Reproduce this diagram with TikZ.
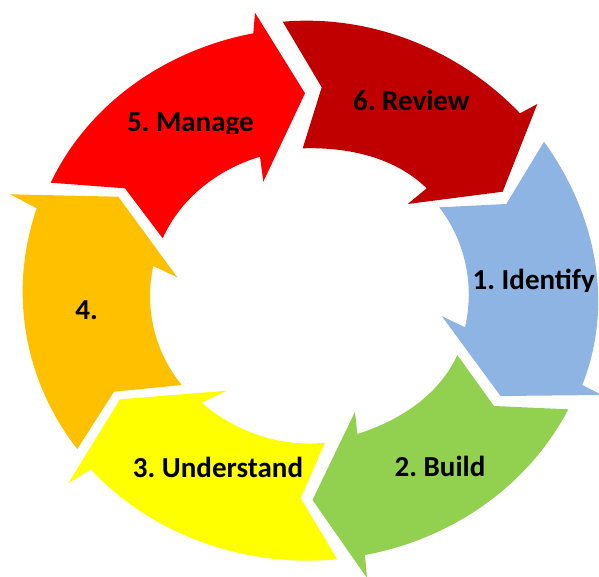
\documentclass[tikz,border=0pt]{standalone}
\usepackage{fontspec}
\setmainfont{Carlito}
\frenchspacing
\definecolor{cOne}{HTML}{8EB4E3}
\definecolor{cTwo}{HTML}{92D050}
\definecolor{cThree}{HTML}{FFFF00}
\definecolor{cFour}{HTML}{FFC000}
\definecolor{cFive}{HTML}{FF0000}
\definecolor{cSix}{HTML}{C00000}
% arc between two points following an ellipse (cx,cy,a,b), radius interpolated
\newcommand\mkarc[9]{%
  \pgfmathsetmacro\ArcUa{((#2)-(#6))/(#8)}%
  \pgfmathsetmacro\ArcVa{((#7)-(#3))/(#9)}%
  \pgfmathsetmacro\ArcUb{((#4)-(#6))/(#8)}%
  \pgfmathsetmacro\ArcVb{((#7)-(#5))/(#9)}%
  \pgfmathsetmacro\ArcTa{atan2(\ArcVa,\ArcUa)}%
  \pgfmathsetmacro\ArcTb{atan2(\ArcVb,\ArcUb)}%
  \pgfmathsetmacro\ArcDt{mod((\ArcTb)-(\ArcTa)+540,360)-180}%
  \pgfmathsetmacro\ArcK{4/3*tan((\ArcDt)/4)}%
  \coordinate (#1s) at (#2,#3);%
  \coordinate (#1e) at (#4,#5);%
  \coordinate (#1a) at ({#6+#8*((\ArcUa)-(\ArcK)*(\ArcVa))},{#7-#9*((\ArcVa)+(\ArcK)*(\ArcUa))});%
  \coordinate (#1b) at ({#6+#8*((\ArcUb)+(\ArcK)*(\ArcVb))},{#7-#9*((\ArcVb)-(\ArcK)*(\ArcUb))});%
}
\newcommand\mkouter[5]{\mkarc{#1}{#2}{#3}{#4}{#5}{309}{290.5}{288}{269.5}}
\newcommand\mkinner[5]{\mkarc{#1}{#2}{#3}{#4}{#5}{307.5}{295.5}{157.5}{147.5}}
\tikzset{lbl/.style={font=\fontsize{29}{34}\selectfont\bfseries, text=black, inner sep=0pt, anchor=base}}
\begin{document}
\begin{tikzpicture}[x=1pt,y=-1pt]
\useasboundingbox (0,0) rectangle (599,576);
\clip (0,0) rectangle (599,576);
% ---- 5. Manage (red)
\mkouter{rO}{50.7}{182.7}{253.3}{33.3}
\mkinner{rI}{260}{156.7}{162.7}{238.3}
\fill[cFive] (rOs) .. controls (rOa) and (rOb) .. (rOe) -- (255,12.7) -- (305,93.3) -- (263.3,181.7)
  -- (rIs) .. controls (rIa) and (rIb) .. (rIe) -- (125,188.3) -- cycle;
% ---- 6. Review (dark red)
\mkouter{dO}{282.7}{21.7}{520}{113.3}
\mkinner{dI}{426.7}{188.3}{302.7}{148.3}
\fill[cSix] (dOs) .. controls (dOa) and (dOb) .. (dOe) -- (537.3,104) -- (502.7,191.7) -- (407.7,204)
  -- (dIs) .. controls (dIa) and (dIb) .. (dIe) -- (321.7,87.3) -- cycle;
% ---- 1. Identify (blue)
\mkouter{bO}{544}{141.7}{582.3}{385}
\mkinner{bI}{465}{327.3}{439.3}{207.3}
\fill[cOne] (bOs) .. controls (bOa) and (bOb) .. (bOe) -- (602,395) -- (500.5,396) -- (441.7,316)
  -- (bIs) .. controls (bIa) and (bIb) .. (bIe) -- (506.3,204) -- cycle;
% ---- 2. Build (green)
\mkouter{gO}{568.3}{409.3}{365}{555}
\mkinner{gI}{357.3}{434}{457.3}{355}
\fill[cTwo] (gOs) .. controls (gOa) and (gOb) .. (gOe) -- (367,578) -- (312.5,500) -- (355,411.7)
  -- (gIs) .. controls (gIa) and (gIb) .. (gIe) -- (494,406) -- cycle;
% ---- 3. Understand (yellow)
\mkouter{yO}{337.3}{559.3}{90.7}{469.3}
\mkinner{yI}{201.7}{402.7}{325}{442.7}
\fill[cThree] (yOs) .. controls (yOa) and (yOb) .. (yOe) -- (68.3,483.3) -- (120,399.3) -- (226.7,390.7)
  -- (yIs) .. controls (yIa) and (yIb) .. (yIe) -- (300.7,498.3) -- cycle;
% ---- 4. (orange)
\mkouter{oO}{77.3}{449}{36.7}{208.3}
\mkinner{oI}{153.3}{266}{181.7}{385}
\fill[cFour] (oOs) .. controls (oOa) and (oOb) .. (oOe) -- (10,194.3) -- (118.3,196.7) -- (177.3,277.3)
  -- (oIs) .. controls (oIa) and (oIb) .. (oIe) -- (114,391.7) -- cycle;
% ---- labels
\begin{scope}
  \clip (100,80) rectangle (290,133.5);
  \node[lbl] (t5) at (190.3,131.7) {5. Manage};
\end{scope}
\node[lbl] (t6) at (411.3,110.7) {6. Review};
\begin{scope}
  \clip (450,250) rectangle (599,291.8);
  \node[lbl] (t1) at (533.8,289.3) {1. Identify};
\end{scope}
\node[lbl] (t2) at (440,476.7) {2. Build};
\node[lbl] (t3) at (218,477.3) {3. Understand};
\node[lbl] (t4) at (86.7,319) {4.};
\end{tikzpicture}
\end{document}
